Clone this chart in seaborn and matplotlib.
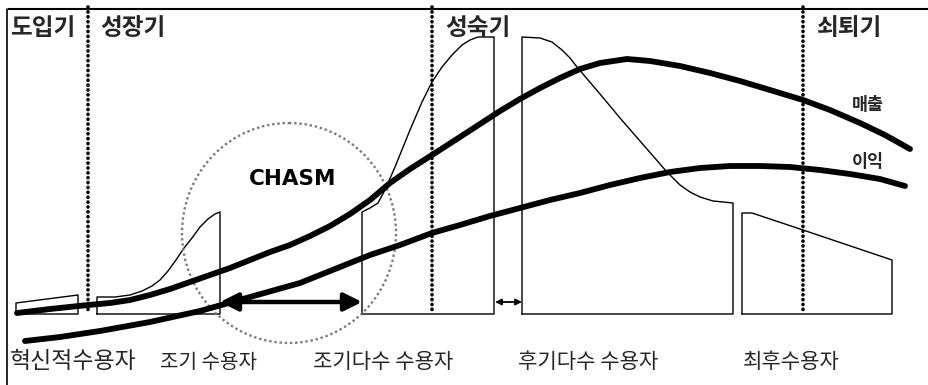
import matplotlib
matplotlib.use("Agg")
import matplotlib.pyplot as plt
from matplotlib.patches import Ellipse
import seaborn as sns
import pandas as pd

sns.set_theme(style="white")
plt.rcParams["font.family"] = ["Noto Sans CJK KR", "DejaVu Sans"]

# Sales and profit curves over the product life cycle (x = time, y = drawing units, down is lower)
sales_x = [17, 50, 88, 110, 130, 150, 170, 190, 210, 230, 250, 270, 290, 310, 330, 350,
           370, 390, 410, 432, 460, 480, 500, 520, 540, 560, 580, 600, 627, 650, 680, 710,
           740, 770, 803, 830, 860, 885, 910]
sales_y = [313, 309, 305, 303, 300, 295, 289, 282, 275, 268, 260, 252, 245, 236, 226, 214,
           200, 183, 169, 155, 137, 124, 111, 99, 88, 78, 69, 63, 59, 61, 66, 73,
           81, 90, 100, 110, 123, 135, 149]
profit_x = [25, 60, 100, 150, 200, 250, 300, 340, 370, 400, 432, 460, 490, 520, 550, 580,
            610, 640, 670, 700, 730, 760, 790, 820, 850, 880, 905]
profit_y = [341, 337, 331, 322, 311, 297, 283, 267, 255, 245, 233, 225, 216, 208, 200, 193,
            185, 178, 172, 168, 166, 166, 167, 170, 174, 179, 186]

# Adopter segments (top edge of each block)
baseline = 314
innovators_x = [16, 78]
innovators_y = [303, 295]
early_adopters_x = [97, 115, 130, 142, 152, 160, 168, 176, 184, 192, 200, 208, 215, 220]
early_adopters_y = [297, 297, 295, 291, 286, 280, 271, 260, 248, 238, 227, 219, 214, 212]
early_majority_x = [362, 370, 378, 385, 395, 410, 422, 432, 442, 452, 462, 470, 478, 494]
early_majority_y = [212, 208, 203, 190, 167, 130, 102, 82, 67, 55, 45, 40, 37, 37]
late_majority_x = [522, 540, 552, 562, 570, 577, 600, 620, 640, 667, 680, 690, 700, 713, 733]
late_majority_y = [37, 38, 42, 50, 58, 67, 94, 118, 141, 172, 185, 192, 197, 201, 203]
laggards_x = [742, 752, 803, 892]
laggards_y = [213, 213, 230, 260]

# Stage boundaries and labels
stage_lines = [88, 432, 803]
stage_labels = ["도입기", "성장기", "성숙기", "쇠퇴기"]
stage_label_x = [10, 100, 445, 817]
adopter_labels = ["혁신적수용자", "조기 수용자", "조기다수 수용자", "후기다수 수용자", "최후수용자"]
adopter_label_x = [10, 160, 313, 518, 743]
adopter_label_size = [16.5, 14.5, 15.2, 15.2, 15.2]
curve_labels = ["매출", "이익"]
curve_label_pos = [(852, 105), (852, 162)]

fig = plt.figure(figsize=(9.29, 3.85), dpi=100)
ax = fig.add_axes([0, 0, 1, 1])
ax.set_xlim(0, 929)
ax.set_ylim(385, 0)
ax.axis("off")

# Frame (top and left)
ax.plot([8, 929], [9, 9], color="black", lw=1.5, solid_capstyle="butt")
ax.plot([7.5, 7.5], [9, 385], color="black", lw=1.2)

# Stage dividers
for sx in stage_lines:
    ax.plot([sx, sx], [7, 312], color="black", lw=2.6,
            linestyle=(0, (0.05, 1.3)), dash_capstyle="round", zorder=3)

# Adopter blocks
def block(xs, ys):
    px = [xs[0]] + list(xs) + [xs[-1], xs[0]]
    py = [baseline] + list(ys) + [baseline, baseline]
    ax.plot(px, py, color="black", lw=1.0, zorder=2, solid_joinstyle="round")

block(innovators_x, innovators_y)
block(early_adopters_x, early_adopters_y)
block(early_majority_x, early_majority_y)
block(late_majority_x, late_majority_y)
block(laggards_x, laggards_y)

# Chasm ring
ax.add_patch(Ellipse((289, 233), 214, 220, fill=False, edgecolor="#7a7a7a",
                     lw=1.7, linestyle=(0, (1, 1.2)), zorder=2))
ax.text(293, 179, "CHASM", family="DejaVu Sans", weight="bold", fontsize=15.5,
        ha="center", va="center", color="black")

# Sales / profit curves
curves = pd.concat([
    pd.DataFrame({"x": sales_x, "y": sales_y, "series": "매출"}),
    pd.DataFrame({"x": profit_x, "y": profit_y, "series": "이익"}),
])
sns.lineplot(data=curves, x="x", y="y", units="series", estimator=None, sort=False,
             color="black", lw=4.2, ax=ax, legend=False, zorder=4)
for ln in ax.lines[-2:]:
    ln.set_solid_capstyle("round")
    ln.set_solid_joinstyle("round")

# Gap arrows
ax.annotate("", xy=(220, 302), xytext=(362, 302),
            arrowprops=dict(arrowstyle="<|-|>", color="black", lw=3.2,
                            mutation_scale=27, shrinkA=0, shrinkB=0), zorder=5)
ax.annotate("", xy=(495, 302), xytext=(522, 302),
            arrowprops=dict(arrowstyle="<|-|>", color="black", lw=1.3,
                            mutation_scale=9, shrinkA=0, shrinkB=0), zorder=5)

# Texts
for lbl, lx in zip(stage_labels, stage_label_x):
    ax.text(lx, 28, lbl, fontsize=17, weight="bold", ha="left", va="center")
for lbl, lx, fs in zip(adopter_labels, adopter_label_x, adopter_label_size):
    ax.text(lx, 362, lbl, fontsize=fs, weight="medium", ha="left", va="center")
for lbl, (lx, ly) in zip(curve_labels, curve_label_pos):
    ax.text(lx, ly, lbl, fontsize=12.5, weight="bold", ha="left", va="center")

fig.savefig("out.png", dpi=100)
